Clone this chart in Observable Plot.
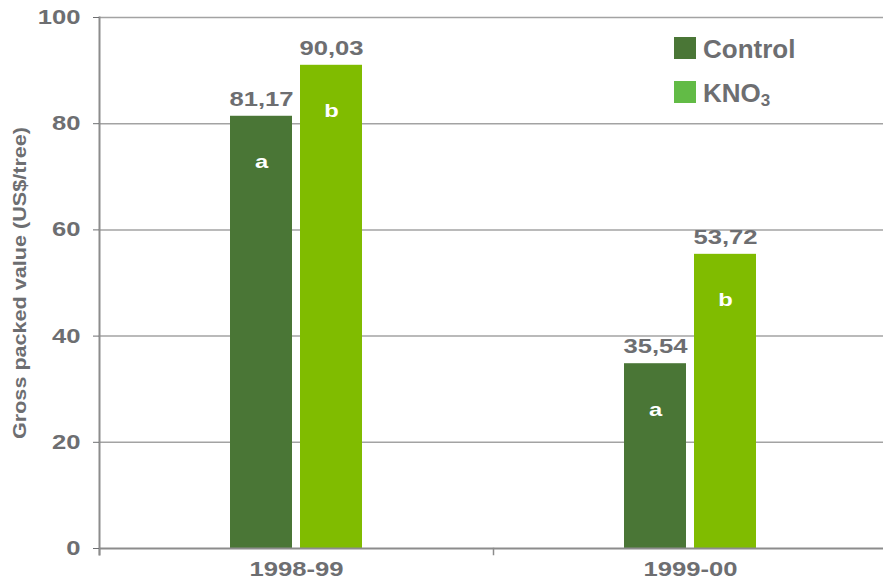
<!DOCTYPE html>
<html>
<head>
<meta charset="utf-8">
<script src="https://cdn.jsdelivr.net/npm/d3@7"></script>
<script src="https://cdn.jsdelivr.net/npm/@observablehq/plot@0.6"></script>
<style>
  html, body { margin: 0; padding: 0; background: #fff; overflow: hidden; }
  #wrap { position: relative; width: 883px; height: 584px; }
  .leg { position: absolute; font-family: "Liberation Sans", Arial, sans-serif; font-weight: bold;
         font-size: 26px; line-height: 26px; color: #6d6e71; white-space: nowrap; }
  .sw { position: absolute; width: 22px; height: 22px; }
  .leg sub { font-size: 17px; vertical-align: -4px; line-height: 0; }
</style>
</head>
<body>
<div id="wrap"></div>
<script>
// ---- data ----
const years = ["1998-99", "1999-00"];
const series = ["Control", "KNO3"];
const controlValues = [81.17, 35.54];      // printed values
const kno3Values = [90.03, 53.72];
const controlBarTops = [81.4, 34.8];       // bar heights as drawn in the picture
const kno3BarTops = [91.0, 55.4];
const controlLetters = ["a", "a"];
const kno3Letters = ["b", "b"];
const yTicks = [0, 20, 40, 60, 80, 100];
const yLabel = "Gross packed value (US$/tree)";

const ctrlColor = "#4a7636";
const knoColor = "#80bc00";
const knoLegendColor = "#62bb46";
const textGray = "#6d6e71";
const axisGray = "#8c8c8c";
const gridGray = "#a3a3a3";

const fmt = v => v.toFixed(2).replace(".", ",");
const rows = [];
years.forEach((yr, i) => {
  rows.push({year: yr, series: series[0], height: controlBarTops[i], label: fmt(controlValues[i]), letter: controlLetters[i]});
  rows.push({year: yr, series: series[1], height: kno3BarTops[i], label: fmt(kno3Values[i]), letter: kno3Letters[i]});
});

const chart = Plot.plot({
  width: 883,
  height: 584,
  marginLeft: 99,
  marginRight: -4,
  marginTop: 17,
  marginBottom: 36,
  style: {fontFamily: "'Liberation Sans', Arial, sans-serif", background: "#fff"},
  fx: {domain: years, padding: 0},
  x: {domain: series, paddingInner: 8 / 70, paddingOuter: 1.871, axis: null},
  y: {domain: [0, 100]},
  color: {domain: series, range: [ctrlColor, knoColor]},
  marks: [
    Plot.gridY(yTicks.filter(d => d > 0), {stroke: gridGray, strokeOpacity: 1, strokeWidth: 1.5}),
    Plot.barY(rows, {fx: "year", x: "series", y: "height", fill: "series"}),
    Plot.ruleY([0], {stroke: axisGray, strokeWidth: 2}),
    Plot.frame({anchor: "left", facetAnchor: "left", stroke: axisGray, strokeWidth: 2, insetBottom: -6}),
    Plot.frame({anchor: "left", stroke: axisGray, strokeWidth: 1.5, insetTop: 531, insetBottom: -6}),
    Plot.axisY({ticks: yTicks, tickSize: 6, tickPadding: 13, fontSize: 20.5, fontWeight: "bold",
                color: textGray, label: null}),
    Plot.axisY({ticks: [], tickSize: 0, label: yLabel, labelAnchor: "center", labelArrow: false,
                labelOffset: 86, fontSize: 18, fontWeight: "bold", color: textGray}),
    Plot.axisFx({anchor: "bottom", tickSize: 0, tickPadding: 13, fontSize: 20.5, fontWeight: "bold",
                 color: textGray, label: null}),
    Plot.text(rows, {fx: "year", x: "series", y: "height", text: "label", dy: -17,
                     fontSize: 20.5, fontWeight: "bold", fill: textGray}),
    Plot.text(rows, {fx: "year", x: "series", y: "height", text: "letter", dy: 46,
                     fontSize: 19, fontWeight: "bold", fill: "#fff"})
  ]
});

// the source chart's lettering is horizontally widened; stretch each text along its baseline
d3.select(chart).selectAll("text").each(function () {
  const t = this.getAttribute("transform") || "";
  const s = this.textContent === yLabel ? 1.2 : 1.25;
  this.setAttribute("transform", t + ` scale(${s},1)`);
});

const wrap = document.getElementById("wrap");
wrap.appendChild(chart);

// legend
const legendItems = [
  {name: "Control", color: ctrlColor, top: 37},
  {name: "KNO<sub>3</sub>", color: knoLegendColor, top: 81}
];
legendItems.forEach(it => {
  const sw = document.createElement("div");
  sw.className = "sw";
  sw.style.left = "674px"; sw.style.top = it.top + "px"; sw.style.background = it.color;
  wrap.appendChild(sw);
  const tx = document.createElement("div");
  tx.className = "leg";
  tx.style.left = "703px"; tx.style.top = (it.top - 1) + "px";
  tx.innerHTML = it.name;
  wrap.appendChild(tx);
});
</script>
</body>
</html>
